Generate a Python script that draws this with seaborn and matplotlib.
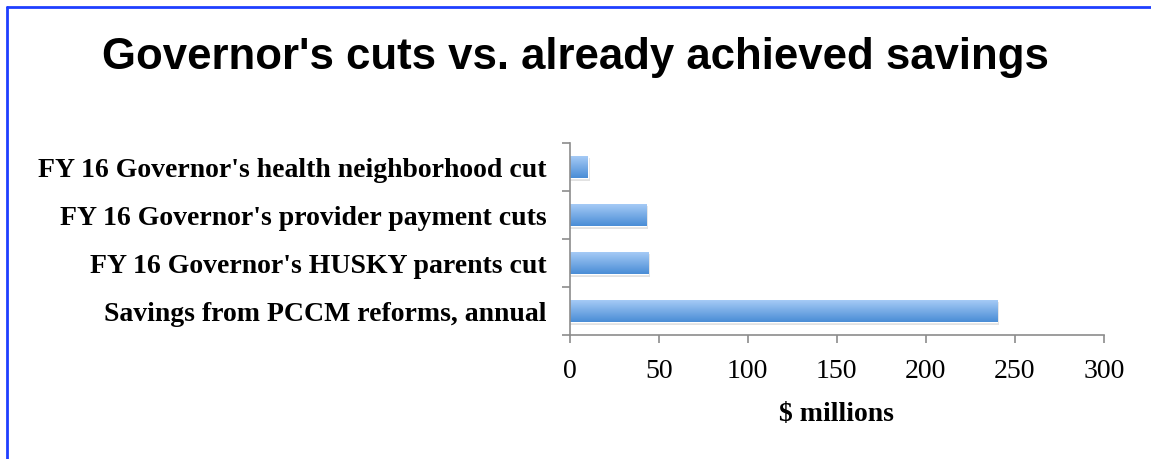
"""Governor's cuts vs. already achieved savings - horizontal bar chart"""
import matplotlib
matplotlib.use("Agg")
import matplotlib.pyplot as plt
from matplotlib.lines import Line2D
import numpy as np
import pandas as pd
import seaborn as sns

# data
categories = [
    "FY 16 Governor's health neighborhood cut",
    "FY 16 Governor's provider payment cuts",
    "FY 16 Governor's HUSKY parents cut",
    "Savings from PCCM reforms, annual",
]
values = [10, 43, 44, 240]
x_ticks = [0, 50, 100, 150, 200, 250, 300]

df = pd.DataFrame({"item": categories, "amount": values})

sns.set_style("white")
plt.rcParams["font.family"] = ["Liberation Serif", "DejaVu Serif"]
plt.rcParams["text.color"] = "black"
plt.rcParams["xtick.color"] = "black"
plt.rcParams["ytick.color"] = "black"
plt.rcParams["axes.labelcolor"] = "black"

fig = plt.figure(figsize=(11.51, 4.59), dpi=100)
ax = fig.add_axes([0.495, 0.270, 0.464, 0.418])

sns.barplot(data=df, y="item", x="amount", orient="h", color="#6fa6e6",
            width=0.47, ax=ax)

# gradient fill + soft shadow on each bar, like the Excel original
grad = np.linspace(0, 1, 64).reshape(-1, 1)
cmap = matplotlib.colors.LinearSegmentedColormap.from_list(
    "bar", ["#a9cdf7", "#4a8dd6"])
for p in list(ax.patches):
    x0, y0 = p.get_x(), p.get_y()
    w, h = p.get_width(), p.get_height()
    shadow = plt.Rectangle((x0, y0 + 0.05), w + 1.2, h, color="#cfcfcf",
                           alpha=0.6, zorder=1, linewidth=0)
    ax.add_patch(shadow)
    im = ax.imshow(grad, cmap=cmap, aspect="auto", extent=(x0, x0 + w, y0 + h, y0),
                   zorder=2, interpolation="bicubic")
    im.set_clip_path(p)
    p.set_zorder(2)
    p.set_facecolor("none")

ax.set_xlim(0, 300)
ax.set_ylim(3.5, -0.5)
ax.set_xticks(x_ticks)
ax.set_xticklabels([str(t) for t in x_ticks], fontsize=20)

# category labels sit between the tick marks, ticks at band boundaries
ax.set_yticks([-0.5, 0.5, 1.5, 2.5, 3.5])
ax.set_yticklabels([])
ax.set_yticks(range(len(categories)), minor=True)
ax.set_yticklabels(categories, minor=True, fontsize=20, fontweight="bold")
ax.tick_params(axis="y", which="minor", length=0, pad=17)
ax.tick_params(axis="y", which="major", length=6, width=1.2, color="#8c8c8c",
               direction="out", left=True)
ax.tick_params(axis="x", length=6, width=1.2, color="#8c8c8c",
               direction="out", bottom=True, pad=11, labelcolor="black")

ax.set_ylabel("")
ax.set_xlabel("$ millions", fontsize=20, fontweight="bold", labelpad=13)

sns.despine(ax=ax, top=True, right=True)
for side in ("left", "bottom"):
    ax.spines[side].set_color("#8c8c8c")
    ax.spines[side].set_linewidth(1.2)

fig.text(0.5, 0.874, "Governor's cuts vs. already achieved savings",
         ha="center", va="center", fontsize=31.5, fontweight="bold",
         color="black", family=["Liberation Sans", "DejaVu Sans"])

# blue frame (top and left edges only, as in the original)
fig.add_artist(Line2D([7 / 1151, 1], [1 - 7 / 459, 1 - 7 / 459],
                      color="#1f3fff", linewidth=2, transform=fig.transFigure))
fig.add_artist(Line2D([7 / 1151, 7 / 1151], [0, 1 - 7 / 459],
                      color="#1f3fff", linewidth=2, transform=fig.transFigure))

fig.savefig("out.png", dpi=100)
